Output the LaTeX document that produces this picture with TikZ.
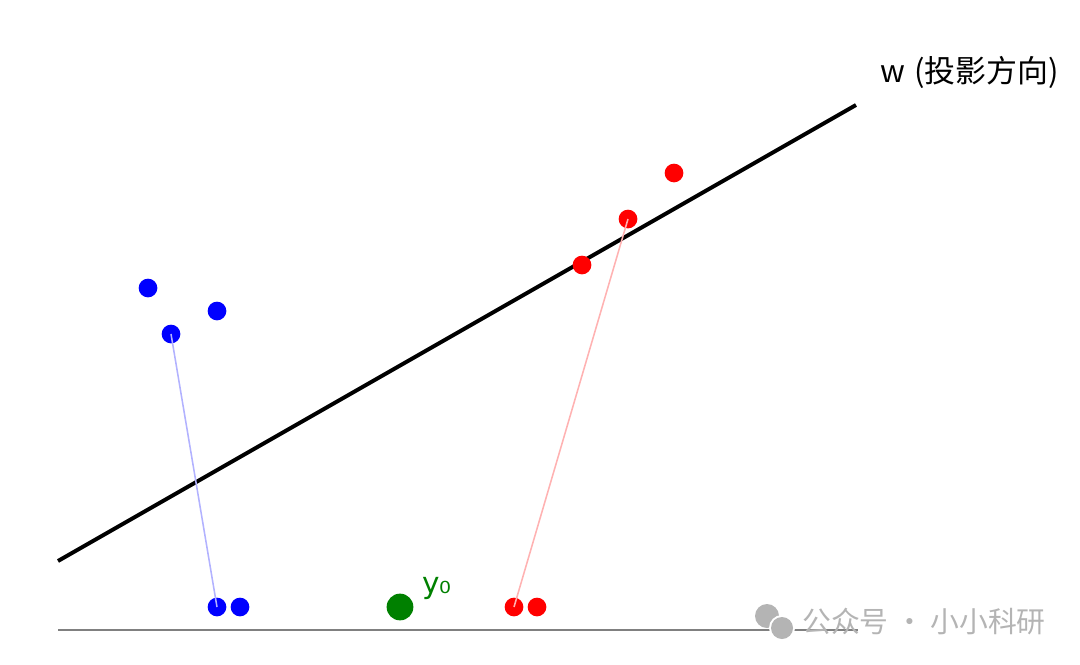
\documentclass[tikz,border=0pt]{standalone}
\usepackage{fontspec}
\setmainfont{Noto Sans CJK SC}
\newfontfamily\dejavu{DejaVu Sans}
\usepackage{xcolor}
\usetikzlibrary{positioning}
\definecolor{ptblue}{HTML}{0000FF}
\definecolor{ptred}{HTML}{FF0000}
\definecolor{ptgreen}{HTML}{008000}
\definecolor{wmgray}{HTML}{B4B4B4}
\tikzset{
  wl/.style={line width=2.8pt,black},
  ax/.style={line width=1.4pt,gray},
  bp/.style={circle,fill=ptblue,inner sep=0pt,minimum size=13.3pt},
  rp/.style={circle,fill=ptred,inner sep=0pt,minimum size=13.3pt},
  bproj/.style={line width=1.1pt,ptblue!30},
  rproj/.style={line width=1.1pt,ptred!30},
  wm/.style={text=wmgray,font=\fontsize{20.5}{24}\selectfont}
}
\begin{document}
\begin{tikzpicture}[x=0.025cm,y=-0.025cm]
\useasboundingbox (0,0) rectangle (1080,665);
% projection direction
\coordinate (w0) at (58,561);
\coordinate (w1) at (856,105);
\draw[wl] (w0)--(w1);
\node[anchor=west,font=\fontsize{22}{26}\selectfont,inner sep=0pt] (wlab) at (880,72) {w\hspace{0.3em}(投影方向)};
% axis
\coordinate (a0) at (58,630);
\coordinate (a1) at (858,630);
\draw[ax] (a0)--(a1);
% class 1
\node[bp] (b1) at (148,288) {};
\node[bp] (b2) at (217,311) {};
\node[bp] (b3) at (171,334) {};
\node[bp] (pb1) at (217,607) {};
\node[bp] (pb2) at (240,607) {};
\draw[bproj] (b3.center)--(pb1.center);
% class 2
\node[rp] (r1) at (674,173) {};
\node[rp] (r2) at (628,219) {};
\node[rp] (r3) at (582,265) {};
\node[rp] (pr1) at (514,607) {};
\node[rp] (pr2) at (537,607) {};
\draw[rproj] (r2.center)--(pr1.center);
% threshold
\node[circle,fill=ptgreen,inner sep=0pt,minimum size=19pt] (y0) at (400,607) {};
\node[text=ptgreen,font=\dejavu\fontsize{21}{24}\selectfont,anchor=west,inner sep=0pt] (y0lab) at (422,588) {y₀};
% watermark
\fill[wmgray] (767,616) circle (12);
\fill[white] (782,628) circle (13);
\fill[wmgray] (782,628) circle (11);
\node[wm,anchor=west,inner sep=0pt] (wmtxt) at (802,622) {公众号 · 小小科研};
\end{tikzpicture}
\end{document}
